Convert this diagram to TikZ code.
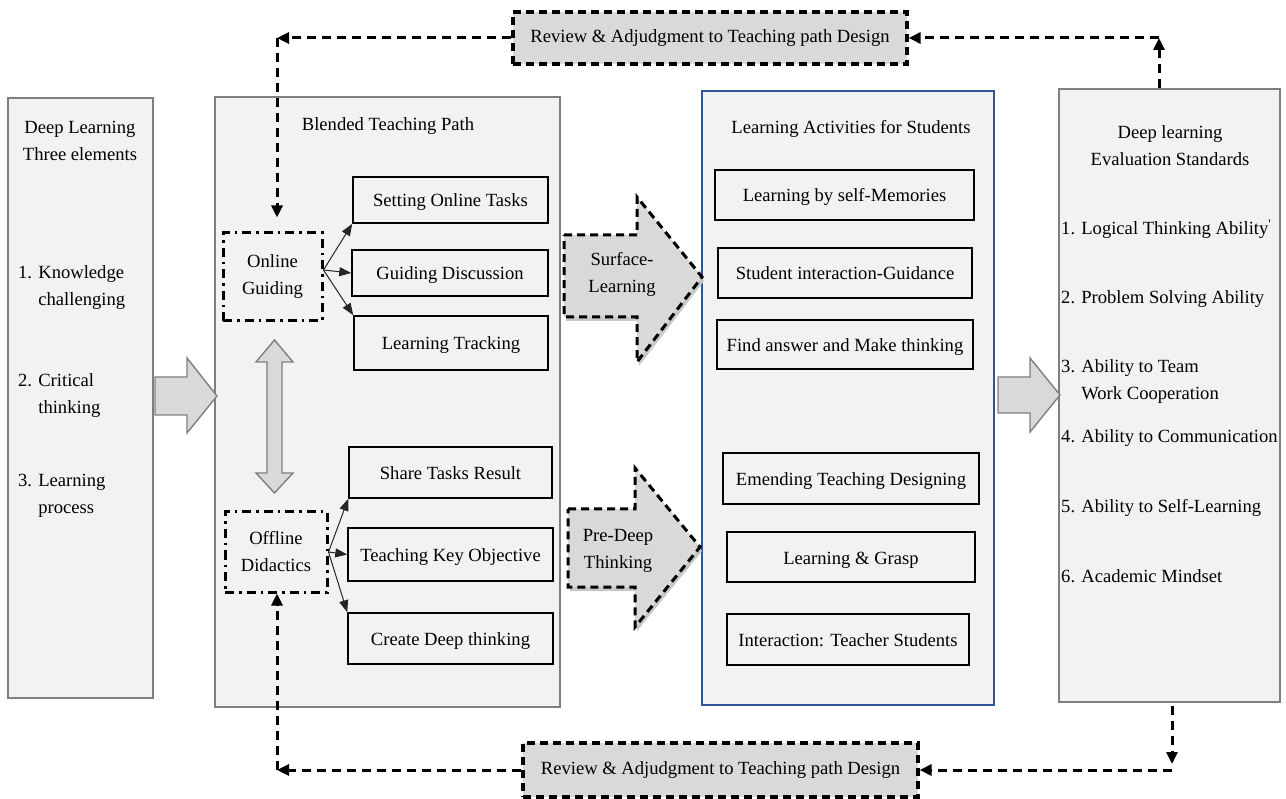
\documentclass[tikz,border=0pt]{standalone}
\usepackage{fontspec}
\setmainfont{Liberation Serif}
\usetikzlibrary{arrows.meta}
\definecolor{panel}{HTML}{F2F2F2}
\definecolor{rim}{HTML}{7F7F7F}
\definecolor{greyfill}{HTML}{D9D9D9}
\definecolor{actblue}{RGB}{47,85,151}
\begin{document}
\begin{tikzpicture}[x=1pt,y=-1pt,
  font=\fontsize{18.6}{27}\selectfont,
  panelbox/.style={draw=rim,fill=panel,line width=1.6pt,inner sep=0pt},
  taskbox/.style={draw,fill=panel,line width=1.5pt,inner sep=0pt,text height=14pt,text depth=0pt},
  modebox/.style={draw,line width=3pt,dash pattern=on 9pt off 5pt on 2.5pt off 5pt,inner sep=0pt,align=center},
  reviewbox/.style={draw,fill=greyfill,line width=3.2pt,dash pattern=on 8pt off 5pt,inner sep=0pt},
  fback/.style={draw,line width=3pt,dash pattern=on 9pt off 6pt,-{Triangle[length=12pt,width=11pt]}},
  feed/.style={draw=black!85,line width=1pt,-{Triangle[length=12pt,width=9pt]}},
  blockarrow/.style={draw=rim,fill=greyfill,line width=1.4pt,line join=miter},
  dasharrow/.style={draw,fill=greyfill,line width=3pt,dash pattern=on 8pt off 5pt},
  txt/.style={inner sep=0pt,align=left,anchor=base west},
  head/.style={inner sep=0pt,align=center,anchor=base}]
\useasboundingbox (0,0) rectangle (1286,799);

\node[panelbox,minimum width=145pt,minimum height=600pt] (lb) at (80.5,398) {};
\node[panelbox,minimum width=345pt,minimum height=610pt] (bb) at (387.5,402) {};
\node[panelbox,draw=actblue,minimum width=292pt,minimum height=614pt] (ab) at (848,398) {};
\node[panelbox,minimum width=221pt,minimum height=613pt] (ev) at (1169.5,395.5) {};

\node[head] (lt) at (80,161) {Deep Learning\\Three elements};
\node[txt] (k1) at (18,306) {1. Knowledge\\\hphantom{1. }challenging};
\node[txt] (k2) at (18,414) {2. Critical\\\hphantom{2. }thinking};
\node[txt] (k3) at (18,514) {3. Learning\\\hphantom{3. }process};

\node[head] (bt) at (388,131) {Blended Teaching Path};
\node[modebox,minimum width=99pt,minimum height=88pt] (og) at (272.5,277) {Online\\Guiding};
\node[modebox,minimum width=102pt,minimum height=80pt] (od) at (276,552) {Offline\\Didactics};

\node[taskbox,minimum width=195pt,minimum height=46pt] (s1) at (450.5,200) {Setting Online Tasks};
\node[taskbox,minimum width=196pt,minimum height=46pt] (s2) at (450,273) {Guiding Discussion};
\node[taskbox,minimum width=194pt,minimum height=54pt] (s3) at (451,343) {Learning Tracking};
\node[taskbox,minimum width=203pt,minimum height=51pt] (s4) at (450.5,472.5) {Share Tasks Result};
\node[taskbox,minimum width=205pt,minimum height=53pt] (s5) at (450.5,554.5) {Teaching Key Objective};
\node[taskbox,minimum width=205pt,minimum height=51pt] (s6) at (450.5,638.5) {Create Deep thinking};

\node[head] (at) at (851,134) {Learning Activities for Students};
\node[taskbox,minimum width=259pt,minimum height=50pt] (a1) at (844.5,195) {Learning by self-Memories};
\node[taskbox,minimum width=254pt,minimum height=50pt] (a2) at (845,273) {Student interaction-Guidance};
\node[taskbox,minimum width=256pt,minimum height=49pt] (a3) at (845,344.5) {Find answer and Make thinking};
\node[taskbox,minimum width=256pt,minimum height=51pt] (a4) at (851,478.5) {Emending Teaching Designing};
\node[taskbox,minimum width=248pt,minimum height=50pt] (a5) at (851,557) {Learning \& Grasp};
\node[taskbox,minimum width=242pt,minimum height=51pt] (a6) at (848,639.5) {Interaction: Teacher Students};

\node[head] (et) at (1170,166) {Deep learning\\Evaluation Standards};
\node[txt] (e1) at (1061,235) {1. Logical Thinking Ability\textsuperscript{\textquotesingle}};
\node[txt] (e2) at (1061,304) {2. Problem Solving Ability};
\node[txt] (e3) at (1061,400) {3. Ability to Team\\\hphantom{3. }Work Cooperation};
\node[txt] (e4) at (1061,443) {4. Ability to Communication};
\node[txt] (e5) at (1061,513) {5. Ability to Self-Learning};
\node[txt] (e6) at (1061,582) {6. Academic Mindset};

\path[blockarrow] (155,377) -- (187,377) -- (187,358) -- (217,396) -- (187,433) -- (187,415) -- (155,415) -- cycle;
\path[blockarrow] (998,377) -- (1030,377) -- (1030,358) -- (1060,395) -- (1030,432) -- (1030,413) -- (998,413) -- cycle;
\path[blockarrow] (274.5,340) -- (293,362) -- (282,362) -- (282,473) -- (293,473) -- (274.5,493) -- (256,473) -- (267,473) -- (267,362) -- (256,362) -- cycle;

\path[fill=black!22,shift={(2,4)}] (564,235) -- (637,235) -- (637,197) -- (702,277) -- (637,362) -- (637,317) -- (564,317) -- cycle;
\path[dasharrow] (564,235) -- (637,235) -- (637,197) -- (702,277) -- (637,362) -- (637,317) -- (564,317) -- cycle;
\node[head] (sl) at (622,293) {Surface-\\Learning};
\path[fill=black!22,shift={(2,4)}] (568,509) -- (635,509) -- (635,468) -- (700,547) -- (635,627) -- (635,587) -- (568,587) -- cycle;
\path[dasharrow] (568,509) -- (635,509) -- (635,468) -- (700,547) -- (635,627) -- (635,587) -- (568,587) -- cycle;
\node[head] (pd) at (618,568) {Pre-Deep\\Thinking};

\node[reviewbox,minimum width=394pt,minimum height=52pt] (r1) at (710,38) {Review \& Adjudgment to Teaching path Design};
\node[reviewbox,minimum width=395pt,minimum height=54pt] (r2) at (720.5,770) {Review \& Adjudgment to Teaching path Design};

\coordinate (c1) at (277,38);
\coordinate (c2) at (1159,38);
\coordinate (c3) at (1172,770);
\coordinate (c4) at (277,770);
\path[fback] (r1.west) -- (c1);
\path[fback,shorten >=14pt] (c1) -- (c1 |- og.north);
\path[fback] (c2 |- ev.north) -- (c2);
\path[fback] (c2) -- (r1.east);
\path[fback,shorten >=6pt] ([yshift=-3pt]c3 |- ev.south) -- (c3);
\path[fback] (c3) -- (r2.east);
\path[fback] (r2.west) -- (c4);
\path[fback] (c4) -- (c4 |- od.south);

\path[feed] ([yshift=7pt]og.east) -- (s1.south west);
\path[feed] ([yshift=7pt]og.east) -- (s2.west);
\path[feed] ([yshift=7pt]og.east) -- (s3.north west);
\path[feed] (od.east) -- (s4.south west);
\path[feed] (od.east) -- (s5.west);
\path[feed] (od.east) -- (s6.north west);
\end{tikzpicture}
\end{document}
